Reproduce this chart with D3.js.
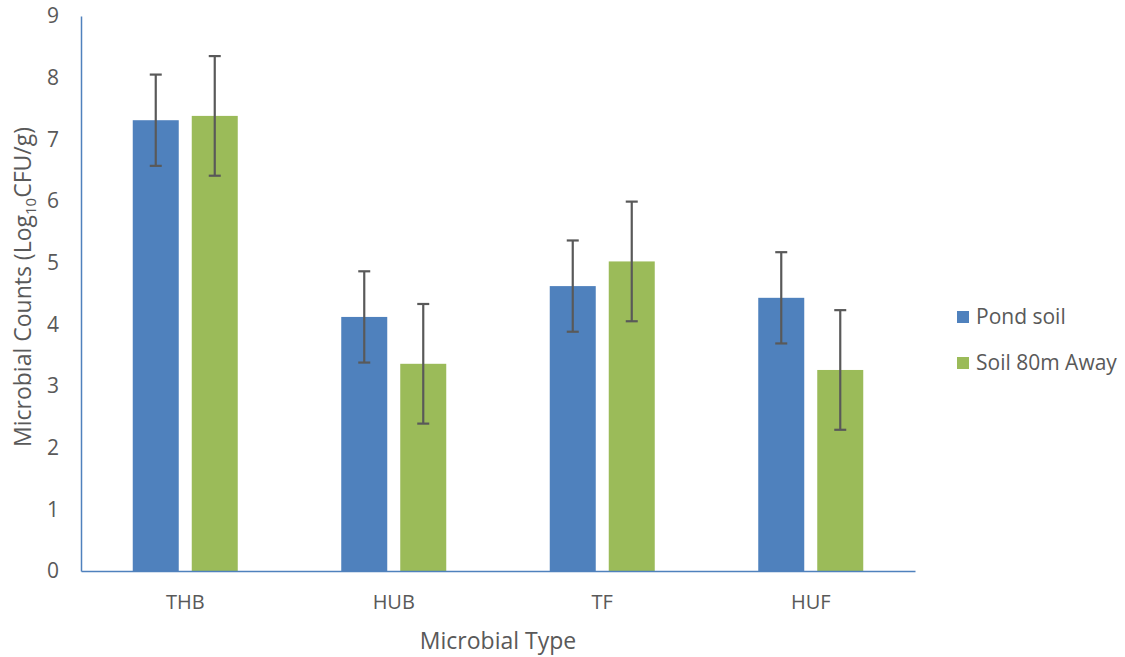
<!DOCTYPE html>
<html><head><meta charset="utf-8">
<script src="https://cdn.jsdelivr.net/npm/d3@7"></script>
<style>body{margin:0;background:#fff}svg{display:block}text{font-family:"Open Sans","Noto Sans",sans-serif;fill:#595959}</style>
</head><body><svg id="c" width="1125" height="657"></svg>
<script>
const categories = ["THB","HUB","TF","HUF"];
const seriesNames = ["Pond soil","Soil 80m Away"];
const pondValues = [7.31, 4.12, 4.62, 4.43];
const pondErrors = [0.74, 0.74, 0.74, 0.74];
const awayValues = [7.38, 3.36, 5.02, 3.26];
const awayErrors = [0.97, 0.97, 0.97, 0.97];
const yTicks = [0,1,2,3,4,5,6,7,8,9];
const colors = ["#4F81BD","#9BBB59"];

(function(){
const svg = d3.select("#c");
const mLeft = 81, mRight = 915, mTop = 16, mBottom = 571;
const x = d3.scaleBand().domain(categories).range([mLeft,mRight]).paddingInner(0).paddingOuter(0);
const y = d3.scaleLinear().domain([0,9]).range([mBottom, mTop]);
const barW = 46, gap = 13;
const series = [
  {name: seriesNames[0], values: pondValues, errors: pondErrors, color: colors[0]},
  {name: seriesNames[1], values: awayValues, errors: awayErrors, color: colors[1]}
];
const bx = (c, i) => x(c) + x.bandwidth()/2 - (barW*2+gap)/2 + i*(barW+gap);

series.forEach((s, i) => {
  svg.append("g").selectAll("rect").data(categories).join("rect")
    .attr("x", c => bx(c,i)).attr("width", barW)
    .attr("y", (c,k) => y(s.values[k])).attr("height", (c,k) => y(0) - y(s.values[k]))
    .attr("fill", s.color);
});

const yAxis = d3.axisLeft(y).tickValues(yTicks).tickSize(0).tickPadding(22);
const gy = svg.append("g").attr("transform", `translate(${mLeft},0)`).call(yAxis);
gy.select(".domain").attr("stroke", "#4F81BD").attr("stroke-width", 1.5);
gy.selectAll("text").style("font-size","21px").attr("fill","#595959");

const xAxis = d3.axisBottom(x).tickSize(0).tickPadding(24);
const gx = svg.append("g").attr("transform", `translate(0,${mBottom})`).call(xAxis);
gx.select(".domain").attr("stroke", "#4F81BD").attr("stroke-width", 1.5);
gx.selectAll("text").style("font-size","20px").attr("fill","#595959");

series.forEach((s, i) => {
  const g = svg.append("g").attr("stroke", "#595959").attr("stroke-width", 2.2);
  categories.forEach((c, k) => {
    const cx = bx(c,i) + barW/2;
    const hi = y(s.values[k] + s.errors[k]), lo = y(s.values[k] - s.errors[k]);
    g.append("line").attr("x1",cx).attr("x2",cx).attr("y1",hi).attr("y2",lo);
    g.append("line").attr("x1",cx-6).attr("x2",cx+6).attr("y1",hi).attr("y2",hi);
    g.append("line").attr("x1",cx-6).attr("x2",cx+6).attr("y1",lo).attr("y2",lo);
  });
});

svg.append("text").attr("x", 498).attr("y", 649).attr("text-anchor","middle")
  .style("font-size","23px").text("Microbial Type");
const yt = svg.append("text").attr("transform","translate(31,287) rotate(-90)")
  .attr("text-anchor","middle").style("font-size","23px");
yt.append("tspan").text("Microbial Counts (Log");
yt.append("tspan").attr("dy", 5).style("font-size","15px").text("10");
yt.append("tspan").attr("dy", -5).text("CFU/g)");

const lg = svg.append("g");
series.forEach((s, i) => {
  const ly = 317 + i*46;
  lg.append("rect").attr("x", 957).attr("y", ly-6).attr("width", 12).attr("height", 12).attr("fill", s.color);
  lg.append("text").attr("x", 976).attr("y", ly).attr("dy","0.35em").style("font-size","21px").text(s.name);
});
})();
</script></body></html>
